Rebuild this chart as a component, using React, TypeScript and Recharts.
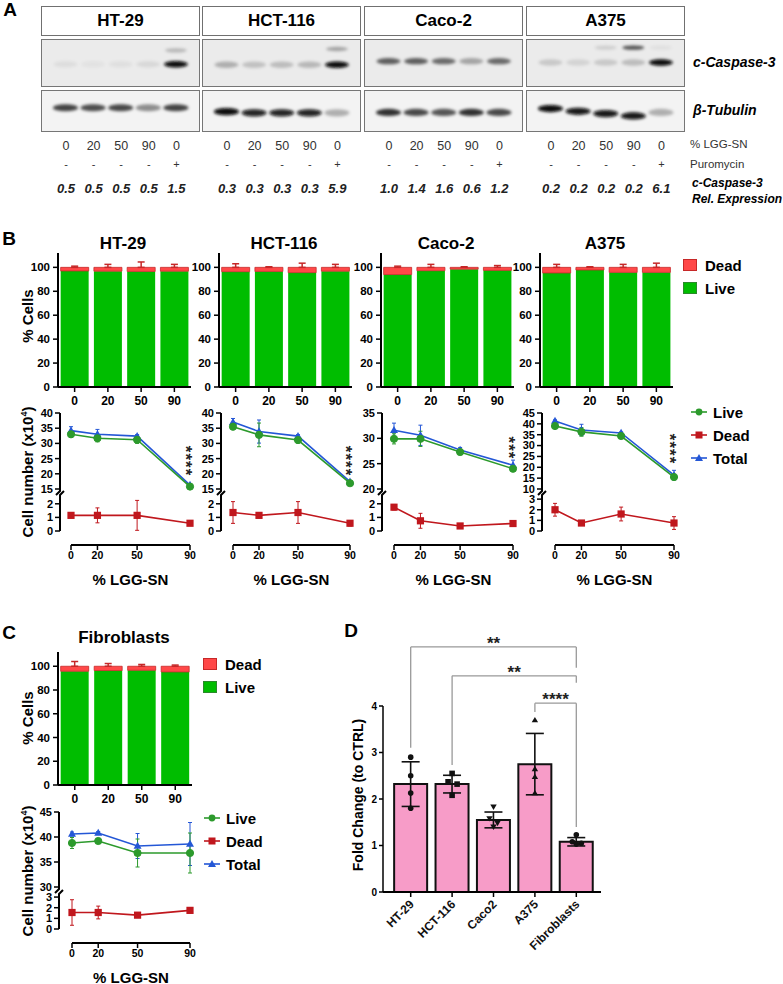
import React from 'react';
import {
  BarChart,
  Bar,
  LineChart,
  Line,
  ComposedChart,
  ScatterChart,
  Scatter,
  XAxis,
  YAxis,
  ErrorBar,
  ReferenceLine,
  ReferenceDot,
} from 'recharts';

const FONT = '"Liberation Sans", Arial, Helvetica, sans-serif';
const GREEN = '#00bd00';
const RED = '#ff4848';
const LIVE_C = '#2c9a2c';
const DEAD_C = '#c0171d';
const TOTAL_C = '#2457d6';
const PINK = '#f79cc8';

// ---------- A: western blots ----------
const lanes = [1, 2, 3, 4, 5];
const laneDose = ['0', '20', '50', '90', '0'];
const lanePuro = ['-', '-', '-', '-', '+'];
const blotNames = ['HT-29', 'HCT-116', 'Caco-2', 'A375'];

const relExpHT29 = [0.5, 0.5, 0.5, 0.5, 1.5];
const relExpHCT116 = [0.3, 0.3, 0.3, 0.3, 5.9];
const relExpCaco2 = [1.0, 1.4, 1.6, 0.6, 1.2];
const relExpA375 = [0.2, 0.2, 0.2, 0.2, 6.1];

// band darkness 0..1 per lane
const caspHT29 = [0.06, 0.04, 0.05, 0.08, 1.0];
const caspHCT116 = [0.26, 0.18, 0.2, 0.22, 1.0];
const caspCaco2 = [0.6, 0.6, 0.55, 0.3, 0.55];
const caspA375 = [0.15, 0.1, 0.15, 0.2, 1.0];
const caspHiHT29 = [0, 0, 0, 0, 0.22];
const caspHiHCT116 = [0, 0, 0, 0, 0.3];
const caspHiCaco2 = [0, 0, 0, 0, 0];
const caspHiA375 = [0, 0, 0.12, 0.65, 0.05];
const tubHT29 = [0.72, 0.68, 0.7, 0.42, 0.72];
const tubHCT116 = [1.0, 0.9, 0.9, 0.9, 0.28];
const tubCaco2 = [0.8, 0.7, 0.65, 0.8, 0.7];
const tubA375 = [1.0, 0.95, 0.95, 0.95, 0.28];
// vertical band position inside the strip (0 bottom, 1 top)
const caspYPos = [0.46, 0.45, 0.53, 0.5];
const caspHiYPos = [0.77, 0.8, 0.8, 0.83];
const tubYHT29 = [0.57, 0.57, 0.57, 0.57, 0.57];
const tubYHCT116 = [0.47, 0.44, 0.44, 0.44, 0.44];
const tubYCaco2 = [0.45, 0.45, 0.45, 0.45, 0.45];
const tubYA375 = [0.55, 0.48, 0.42, 0.36, 0.45];

// ---------- B/C: % cells ----------
const doses = [0, 20, 50, 90];
const doseLabels = ['0', '20', '50', '90'];

const pctLiveHT29 = [97, 96.8, 96.6, 96.8];
const pctDeadHT29 = [3, 3.2, 3.4, 3.2];
const pctErrHT29 = [1, 2.5, 4.5, 2.5];
const pctLiveHCT116 = [96.4, 96.6, 95.6, 96.8];
const pctDeadHCT116 = [3.6, 3.4, 4.4, 3.2];
const pctErrHCT116 = [3, 0.5, 3.5, 2.5];
const pctLiveCaco2 = [94, 97.2, 98.5, 97.5];
const pctDeadCaco2 = [6, 2.8, 1.5, 2.5];
const pctErrCaco2 = [1, 2.5, 0.5, 1.5];
const pctLiveA375 = [95.3, 97.8, 95.8, 95.8];
const pctDeadA375 = [4.7, 2.2, 4.2, 4.2];
const pctErrA375 = [2.5, 0.5, 2.5, 3.5];
const pctLiveFibro = [95.8, 96.4, 96.6, 95.2];
const pctDeadFibro = [4.2, 3.6, 3.4, 4.8];
const pctErrFibro = [4, 2.3, 1.5, 1];

// ---------- B/C: cell numbers (x10^4) ----------
const liveHT29 = [33, 31.7, 31.2, 15.8];
const liveErrHT29 = [1, 1.2, 1.2, 0.3];
const totalHT29 = [34.2, 33, 32.4, 16.3];
const totalErrHT29 = [1.3, 1.6, 0.5, 0.3];
const deadHT29 = [1.15, 1.15, 1.15, 0.57];
const deadErrHT29 = [0.1, 0.55, 1.1, 0.15];

const liveHCT116 = [35.5, 32.8, 31.1, 16.9];
const liveErrHCT116 = [1, 3.9, 1, 0.3];
const totalHCT116 = [37, 33.9, 32.4, 17.4];
const totalErrHCT116 = [1.2, 3.8, 0.5, 0.3];
const deadHCT116 = [1.36, 1.15, 1.36, 0.57];
const deadErrHCT116 = [0.8, 0.1, 0.8, 0.2];

const liveCaco2 = [29.9, 29.9, 27.3, 24.0];
const liveErrCaco2 = [1, 1.5, 0.5, 0.5];
const totalCaco2 = [31.6, 30.6, 27.7, 24.7];
const totalErrCaco2 = [1.4, 2, 0.5, 1];
const deadCaco2 = [1.75, 0.75, 0.37, 0.55];
const deadErrCaco2 = [0.2, 0.55, 0.1, 0.2];

const liveA375 = [39.0, 36.3, 34.4, 15.5];
const liveErrA375 = [1, 2, 0.5, 1];
const totalA375 = [41.3, 37.2, 35.8, 16.4];
const totalErrA375 = [0.5, 2.6, 0.5, 2.2];
const deadA375 = [2.0, 0.75, 1.6, 0.75];
const deadErrA375 = [0.6, 0.1, 0.65, 0.6];

const liveFibro = [38.8, 39.2, 36.8, 36.8];
const liveErrFibro = [1.1, 0.5, 2.8, 4];
const totalFibro = [40.6, 40.8, 38.2, 38.6];
const totalErrFibro = [0.4, 0.3, 2.5, 4.3];
const deadFibro = [1.55, 1.55, 1.3, 1.75];
const deadErrFibro = [1.2, 0.6, 0.2, 0.2];

// ---------- D: fold change ----------
const dCells = ['HT-29', 'HCT-116', 'Caco2', 'A375', 'Fibroblasts'];
const dMean = [2.32, 2.32, 1.55, 2.75, 1.08];
const dSD = [0.48, 0.19, 0.17, 0.66, 0.09];
const dRep1 = [2.9, 2.55, 1.83, 3.7, 1.23];
const dRep2 = [2.5, 2.37, 1.58, 2.65, 1.08];
const dRep3 = [2.13, 2.32, 1.48, 2.48, 1.05];
const dRep4 = [1.8, 2.08, 1.4, 2.13, 1.03];
const dJit1 = [0, 0, 0, 0, 0];
const dJit2 = [0, -4, -4, 0, -4];
const dJit3 = [0, 5, 4, 0, 5];
const dJit4 = [0, 0, 0, 0, 0];
const sigFrom = ['HT-29', 'HCT-116', 'A375'];
const sigTo = ['Fibroblasts', 'Fibroblasts', 'Fibroblasts'];
const sigTop = [5.27, 4.65, 4.06];
const sigFromEnd = [3.1, 2.73, 3.87];
const sigToEnd = [4.82, 4.5, 1.4];
const sigText = ['**', '**', '****'];

const tk = (size: number) => ({ fontSize: size, fontWeight: 700, fill: '#000', fontFamily: FONT });
const axisLn = { stroke: '#000', strokeWidth: 2 };
const tickLn = { stroke: '#000', strokeWidth: 1.5 };

type TP = {
  x: number;
  y: number;
  children: React.ReactNode;
  size?: number;
  weight?: number;
  italic?: boolean;
  color?: string;
  align?: 'center' | 'left' | 'right';
  rotate?: number;
};

const T = ({ x, y, children, size = 12, weight = 700, italic = false, color = '#000', align = 'center', rotate = 0 }: TP) => {
  const tx = align === 'center' ? '-50%' : align === 'left' ? '0%' : '-100%';
  return (
    <div
      style={{
        position: 'absolute',
        left: x,
        top: y,
        transform: `translate(${tx},-50%) rotate(${rotate}deg)`,
        fontSize: size,
        fontWeight: weight,
        fontStyle: italic ? 'italic' : 'normal',
        color,
        whiteSpace: 'nowrap',
        lineHeight: 1,
      }}
    >
      {children}
    </div>
  );
};

// ---------- blot strip ----------
const BW = 159;
const laneX = (lane: number) => ((lane - 0.15) / 5.65) * (BW - 3) + 1.5;

const bandShape = (p: any) => {
  if (p.cx == null || !p.payload || p.payload.v <= 0) return <g />;
  return (
    <ellipse
      cx={p.cx}
      cy={p.cy}
      rx={p.payload.rx}
      ry={p.payload.ry}
      fill="#080808"
      fillOpacity={p.payload.v}
      filter="url(#bandBlur)"
    />
  );
};

const BlotStrip = ({ bands, height, bg }: { bands: any[]; height: number; bg: string }) => (
  <div style={{ width: BW, height, border: '1.5px solid #767676', background: bg, boxSizing: 'border-box' }}>
    <ScatterChart width={BW - 3} height={height - 3} margin={{ top: 0, right: 0, bottom: 0, left: 0 }}>
      <XAxis type="number" dataKey="lane" domain={[0.15, 5.8]} hide />
      <YAxis type="number" dataKey="y" domain={[0, 1]} hide />
      <Scatter data={bands} shape={bandShape} isAnimationActive={false} />
    </ScatterChart>
  </div>
);

const blotLeft = [41, 202, 364, 526];
const blotCasp = [caspHT29, caspHCT116, caspCaco2, caspA375];
const blotCaspHi = [caspHiHT29, caspHiHCT116, caspHiCaco2, caspHiA375];
const blotTub = [tubHT29, tubHCT116, tubCaco2, tubA375];
const blotTubY = [tubYHT29, tubYHCT116, tubYCaco2, tubYA375];
const blotRel = [relExpHT29, relExpHCT116, relExpCaco2, relExpA375];

const Blot = ({ idx }: { idx: number }) => {
  const left = blotLeft[idx];
  const casp = lanes
    .map((l, i) => ({ lane: l, y: caspYPos[idx], v: blotCasp[idx][i], rx: 12, ry: 3.2 }))
    .concat(lanes.map((l, i) => ({ lane: l, y: caspHiYPos[idx], v: blotCaspHi[idx][i], rx: 11, ry: 2.2 })));
  const tub = lanes.map((l, i) => ({ lane: l, y: blotTubY[idx][i], v: blotTub[idx][i], rx: 12.5, ry: 3.6 }));
  return (
    <>
      <div
        style={{
          position: 'absolute',
          left,
          top: 6,
          width: BW,
          height: 30,
          border: '1.5px solid #707070',
          boxSizing: 'border-box',
          display: 'flex',
          alignItems: 'center',
          justifyContent: 'center',
          fontSize: 17,
          fontWeight: 700,
        }}
      >
        {blotNames[idx]}
      </div>
      <div style={{ position: 'absolute', left, top: 39 }}>
        <BlotStrip bands={casp} height={48} bg="#ebebeb" />
      </div>
      <div style={{ position: 'absolute', left, top: 90 }}>
        <BlotStrip bands={tub} height={42} bg="#f3f3f3" />
      </div>
      {lanes.map((l, i) => (
        <React.Fragment key={l}>
          <T x={left + laneX(l)} y={146} size={12.5} weight={400} color="#333">
            {laneDose[i]}
          </T>
          <T x={left + laneX(l)} y={164} size={11} weight={400} color="#333">
            {lanePuro[i]}
          </T>
          <T x={left + laneX(l)} y={188} size={13} italic color="#222">
            {blotRel[idx][i].toFixed(1)}
          </T>
        </React.Fragment>
      ))}
    </>
  );
};

// ---------- stacked % cells ----------
const StackPanel = ({
  left,
  top,
  plotW,
  plotH,
  live,
  dead,
  err,
}: {
  left: number;
  top: number;
  plotW: number;
  plotH: number;
  live: number[];
  dead: number[];
  err: number[];
}) => {
  const rows = doseLabels.map((d, i) => ({ dose: d, live: live[i], dead: dead[i], err: [0, err[i]] }));
  const YW = 40;
  return (
    <div style={{ position: 'absolute', left: left - YW, top: top - 2 }}>
      <BarChart
        width={YW + plotW + 2}
        height={2 + plotH + 26}
        data={rows}
        margin={{ top: 2, right: 2, bottom: 0, left: 0 }}
        barCategoryGap="8%"
      >
        <XAxis
          dataKey="dose"
          height={26}
          tickSize={5}
          tickMargin={4}
          interval={0}
          axisLine={axisLn}
          tickLine={tickLn}
          tick={tk(12)}
        />
        <XAxis xAxisId="top" orientation="top" dataKey="dose" height={0} tick={false} tickLine={false} axisLine={axisLn} />
        <YAxis
          type="number"
          domain={[0, 112]}
          ticks={[0, 20, 40, 60, 80, 100]}
          interval={0}
          width={YW}
          tickSize={5}
          tickMargin={3}
          axisLine={axisLn}
          tickLine={tickLn}
          tick={tk(11.5)}
        />
        <YAxis yAxisId="right" orientation="right" domain={[0, 1]} width={0} tick={false} tickLine={false} axisLine={axisLn} />
        <Bar dataKey="live" stackId="s" fill={GREEN} isAnimationActive={false} />
        <Bar dataKey="dead" stackId="s" fill={RED} stroke="#c62828" strokeWidth={0.8} isAnimationActive={false}>
          <ErrorBar dataKey="err" width={3.5} stroke="#c62828" strokeWidth={1.5} direction="y" />
        </Bar>
      </BarChart>
    </div>
  );
};

// ---------- line charts with broken axis ----------
const circleDot = (color: string) => (p: any) =>
  p.cx == null ? <g key={p.index} /> : <circle key={p.index} cx={p.cx} cy={p.cy} r={3.6} fill={color} stroke={color} />;
const squareDot = (color: string) => (p: any) =>
  p.cx == null ? <g key={p.index} /> : <rect key={p.index} x={p.cx - 3.6} y={p.cy - 3.6} width={7.2} height={7.2} fill={color} />;
const triDot = (color: string) => (p: any) =>
  p.cx == null ? (
    <g key={p.index} />
  ) : (
    <path key={p.index} d={`M${p.cx},${p.cy - 4.2} L${p.cx + 4},${p.cy + 2.8} L${p.cx - 4},${p.cy + 2.8} Z`} fill={color} />
  );

type Seg = { top: number; bottom: number; domain: [number, number]; ticks: number[] };

type LPProps = {
  axisX: number;
  x0: number;
  x90: number;
  up: Seg;
  lo: Seg;
  axisY: number;
  live: number[];
  liveErr: number[];
  total: number[];
  totalErr: number[];
  dead: number[];
  deadErr: number[];
  stars?: string;
  starY?: number;
};

const LinePanel = (pr: LPProps) => {
  const { axisX, x0, x90, up, lo, axisY } = pr;
  const rows = doses.map((d, i) => ({
    dose: d,
    live: pr.live[i],
    liveErr: pr.liveErr[i],
    total: pr.total[i],
    totalErr: pr.totalErr[i],
    dead: pr.dead[i],
    deadErr: pr.deadErr[i],
  }));
  const k = (x90 - x0) / 90;
  const xmin = -(x0 - axisX) / k;
  const rightPad = 12;
  const xmax = 90 + rightPad / k;
  const plotW = x90 + rightPad - axisX;
  const YW = 40;
  const MT = 6;
  const yAxisProps = {
    type: 'number' as const,
    interval: 0 as const,
    width: YW,
    tickSize: 5,
    tickMargin: 2,
    axisLine: axisLn,
    tickLine: tickLn,
    tick: tk(11),
    allowDataOverflow: false,
  };
  return (
    <>
      <div style={{ position: 'absolute', left: axisX - YW, top: up.top - MT }}>
        <LineChart width={YW + plotW} height={MT + up.bottom - up.top} data={rows} margin={{ top: MT, right: 0, bottom: 0, left: 0 }}>
          <XAxis type="number" dataKey="dose" domain={[xmin, xmax]} hide />
          <YAxis {...yAxisProps} domain={up.domain} ticks={up.ticks} />
          <Line dataKey="total" stroke={TOTAL_C} strokeWidth={1.6} dot={triDot(TOTAL_C)} isAnimationActive={false}>
            <ErrorBar dataKey="totalErr" width={2} stroke={TOTAL_C} strokeWidth={1} direction="y" />
          </Line>
          <Line dataKey="live" stroke={LIVE_C} strokeWidth={1.6} dot={circleDot(LIVE_C)} isAnimationActive={false}>
            <ErrorBar dataKey="liveErr" width={2} stroke={LIVE_C} strokeWidth={1} direction="y" />
          </Line>
          {pr.stars ? (
            <ReferenceDot
              x={90}
              y={pr.starY}
              r={0}
              ifOverflow="visible"
              shape={(p: any) => (
                <text
                  x={p.cx - 5}
                  y={p.cy}
                  transform={`rotate(90 ${p.cx - 5} ${p.cy})`}
                  textAnchor="middle"
                  dominantBaseline="central"
                  fontSize={17}
                  fontWeight={700}
                  fontFamily={FONT}
                  fill="#222"
                  letterSpacing={1}
                >
                  {pr.stars}
                </text>
              )}
            />
          ) : null}
        </LineChart>
      </div>
      <div style={{ position: 'absolute', left: axisX - YW, top: lo.top - MT }}>
        <LineChart width={YW + plotW} height={MT + lo.bottom - lo.top} data={rows} margin={{ top: MT, right: 0, bottom: 0, left: 0 }}>
          <XAxis type="number" dataKey="dose" domain={[xmin, xmax]} hide />
          <YAxis {...yAxisProps} domain={lo.domain} ticks={lo.ticks} />
          <Line dataKey="dead" stroke={DEAD_C} strokeWidth={1.6} dot={squareDot(DEAD_C)} isAnimationActive={false}>
            <ErrorBar dataKey="deadErr" width={2} stroke={DEAD_C} strokeWidth={1} direction="y" />
          </Line>
        </LineChart>
      </div>
      <svg
        style={{ position: 'absolute', left: axisX - 8, top: up.bottom - 4, overflow: 'visible' }}
        width={16}
        height={lo.top - up.bottom + 8}
      >
        <path d={`M8,4 L8,6 L4,10`} stroke="#000" strokeWidth={2} fill="none" />
        <path d={`M12,${lo.top - up.bottom - 2} L8,${lo.top - up.bottom + 2} L8,${lo.top - up.bottom + 4}`} stroke="#000" strokeWidth={2} fill="none" />
      </svg>
      <div style={{ position: 'absolute', left: x0 - 10, top: axisY - 1 }}>
        <LineChart width={x90 - x0 + 20} height={22} data={rows} margin={{ top: 0, right: 10, bottom: 0, left: 10 }}>
          <XAxis
            type="number"
            dataKey="dose"
            domain={[0, 90]}
            ticks={doses}
            interval={0}
            height={21}
            tickSize={5}
            tickMargin={2}
            axisLine={axisLn}
            tickLine={tickLn}
            tick={tk(10.5)}
          />
          <YAxis hide domain={[0, 1]} />
          <Line dataKey="dead" stroke="none" dot={false} isAnimationActive={false} />
        </LineChart>
      </div>
      <T x={(x0 + x90) / 2} y={axisY + 34} size={15}>
        % LGG-SN
      </T>
    </>
  );
};

const BarLegend = ({ x, y }: { x: number; y: number }) => (
  <>
    <div style={{ position: 'absolute', left: x, top: y - 6, width: 14, height: 12, background: RED, border: '1px solid #c62828', boxSizing: 'border-box' }} />
    <T x={x + 22} y={y} size={15} align="left">
      Dead
    </T>
    <div style={{ position: 'absolute', left: x, top: y + 17, width: 14, height: 12, background: GREEN, border: '1px solid #2a8a2a', boxSizing: 'border-box' }} />
    <T x={x + 22} y={y + 23} size={15} align="left">
      Live
    </T>
  </>
);

const LineLegend = ({ x, y }: { x: number; y: number }) => {
  const items = [
    { name: 'Live', c: LIVE_C, m: 'c' },
    { name: 'Dead', c: DEAD_C, m: 's' },
    { name: 'Total', c: TOTAL_C, m: 't' },
  ];
  return (
    <>
      {items.map((it, i) => (
        <React.Fragment key={it.name}>
          <svg style={{ position: 'absolute', left: x, top: y + i * 23 - 6 }} width={18} height={12}>
            <line x1={1} y1={6} x2={17} y2={6} stroke={it.c} strokeWidth={1.6} />
            {it.m === 'c' && <circle cx={9} cy={6} r={3.4} fill={it.c} />}
            {it.m === 's' && <rect x={5.5} y={2.5} width={7} height={7} fill={it.c} />}
            {it.m === 't' && <path d="M9,2 L13,9 L5,9 Z" fill={it.c} />}
          </svg>
          <T x={x + 23} y={y + i * 23} size={15} align="left">
            {it.name}
          </T>
        </React.Fragment>
      ))}
    </>
  );
};

const CellNumberLabel = ({ x, y }: { x: number; y: number }) => (
  <T x={x} y={y} size={15} rotate={-90}>
    Cell number (x10<span style={{ fontSize: 9, position: 'relative', top: -6 }}>4</span>)
  </T>
);

// ---------- D ----------
const markerFor = (name: string, cx: number, cy: number) => {
  const f = '#111';
  if (name === 'HCT-116') return <rect x={cx - 2.8} y={cy - 2.8} width={5.6} height={5.6} fill={f} />;
  if (name === 'Caco2') return <path d={`M${cx - 3.2},${cy - 2.4} L${cx + 3.2},${cy - 2.4} L${cx},${cy + 3} Z`} fill={f} />;
  if (name === 'A375') return <path d={`M${cx},${cy - 3} L${cx + 3.2},${cy + 2.4} L${cx - 3.2},${cy + 2.4} Z`} fill={f} />;
  return <circle cx={cx} cy={cy} r={2.8} fill={f} />;
};

const DTick = (p: any) => (
  <text
    x={0}
    y={0}
    transform={`translate(${p.x + 4},${p.y + 6}) rotate(-45)`}
    textAnchor="end"
    fontSize={12}
    fontWeight={700}
    fontFamily={FONT}
    fill="#111"
  >
    {p.payload.value}
  </text>
);

const PanelD = () => {
  const rows = dCells.map((name, i) => ({
    name,
    mean: dMean[i],
    sd: dSD[i],
    r1: dRep1[i],
    r2: dRep2[i],
    r3: dRep3[i],
    r4: dRep4[i],
  }));
  const jit = [dJit1, dJit2, dJit3, dJit4];
  const YW = 35;
  const MT = 80;
  return (
    <div style={{ position: 'absolute', left: 383 - YW, top: 706 - MT }}>
      <ComposedChart
        width={YW + 218 + 5}
        height={MT + 186 + 75}
        data={rows}
        margin={{ top: MT, right: 5, bottom: 0, left: 0 }}
        barCategoryGap="10%"
      >
        <XAxis
          dataKey="name"
          padding={{ left: 7, right: 4 }}
          height={75}
          interval={0}
          tickSize={5}
          tickMargin={2}
          allowDuplicatedCategory={false}
          axisLine={axisLn}
          tickLine={tickLn}
          tick={DTick}
        />
        <YAxis
          type="number"
          domain={[0, 4]}
          ticks={[0, 1, 2, 3, 4]}
          interval={0}
          width={YW}
          tickSize={4}
          tickMargin={2}
          axisLine={{ stroke: '#000', strokeWidth: 1.5 }}
          tickLine={tickLn}
          tick={tk(10)}
        />
        <Bar dataKey="mean" fill={PINK} stroke="#111" strokeWidth={2} isAnimationActive={false}>
          <ErrorBar dataKey="sd" width={9} stroke="#111" strokeWidth={1.6} direction="y" />
        </Bar>
        {[1, 2, 3, 4].map((r) => (
          <Scatter
            key={r}
            dataKey={`r${r}`}
            isAnimationActive={false}
            shape={(p: any) => {
              if (p.cx == null) return <g />;
              const i = dCells.indexOf(p.payload.name);
              return markerFor(p.payload.name, p.cx + jit[r - 1][i], p.cy);
            }}
          />
        ))}
        {sigFrom.map((from, i) => (
          <React.Fragment key={from}>
            <ReferenceLine
              segment={[
                { x: from, y: sigFromEnd[i] },
                { x: from, y: sigTop[i] },
              ]}
              stroke="#999"
              strokeWidth={1.3}
              ifOverflow="visible"
            />
            <ReferenceLine
              segment={[
                { x: from, y: sigTop[i] },
                { x: sigTo[i], y: sigTop[i] },
              ]}
              stroke="#999"
              strokeWidth={1.3}
              ifOverflow="visible"
              label={{ value: sigText[i], position: 'top', offset: -2, fill: '#222', fontSize: 17, fontWeight: 700, fontFamily: FONT }}
            />
            <ReferenceLine
              segment={[
                { x: sigTo[i], y: sigTop[i] },
                { x: sigTo[i], y: sigToEnd[i] },
              ]}
              stroke="#999"
              strokeWidth={1.3}
              ifOverflow="visible"
            />
          </React.Fragment>
        ))}
      </ComposedChart>
    </div>
  );
};

// ---------- layout ----------
const bLeft = [58, 219, 381, 540];
const bTitles = ['HT-29', 'HCT-116', 'Caco-2', 'A375'];
const bLive = [pctLiveHT29, pctLiveHCT116, pctLiveCaco2, pctLiveA375];
const bDead = [pctDeadHT29, pctDeadHCT116, pctDeadCaco2, pctDeadA375];
const bErr = [pctErrHT29, pctErrHCT116, pctErrCaco2, pctErrA375];

const lAxisX = [60, 221, 382, 542];
const lX0 = [71, 233, 394, 555];
const lX90 = [190, 350, 513, 674];
const upDomains: [number, number][] = [
  [15, 40],
  [15, 40],
  [20, 35],
  [10, 45],
];
const upTicks = [
  [15, 20, 25, 30, 35, 40],
  [15, 20, 25, 30, 35, 40],
  [20, 25, 30, 35],
  [10, 15, 20, 25, 30, 35, 40, 45],
];
const loDomains: [number, number][] = [
  [0, 2.5],
  [0, 2.5],
  [0, 2.5],
  [0, 3.2],
];
const loTicks = [
  [0, 1, 2],
  [0, 1, 2],
  [0, 1, 2],
  [0, 1, 2, 3],
];
const lLive = [liveHT29, liveHCT116, liveCaco2, liveA375];
const lLiveErr = [liveErrHT29, liveErrHCT116, liveErrCaco2, liveErrA375];
const lTotal = [totalHT29, totalHCT116, totalCaco2, totalA375];
const lTotalErr = [totalErrHT29, totalErrHCT116, totalErrCaco2, totalErrA375];
const lDead = [deadHT29, deadHCT116, deadCaco2, deadA375];
const lDeadErr = [deadErrHT29, deadErrHCT116, deadErrCaco2, deadErrA375];
const lStars = ['****', '****', '***', '****'];
const lStarY = [24.2, 24.2, 28.1, 28.4];

export default function App() {
  return (
    <div
      style={{
        position: 'absolute',
        left: 0,
        top: 0,
        width: 783,
        height: 984,
        background: '#fff',
        fontFamily: FONT,
        overflow: 'hidden',
        color: '#000',
      }}
    >
      <style>{'.recharts-surface{overflow:visible}'}</style>
      <svg width={0} height={0} style={{ position: 'absolute' }}>
        <defs>
          <filter id="bandBlur" x="-50%" y="-150%" width="200%" height="400%">
            <feGaussianBlur stdDeviation="1.4" />
          </filter>
        </defs>
      </svg>

      {/* A */}
      <T x={10} y={9} size={19}>
        A
      </T>
      {[0, 1, 2, 3].map((i) => (
        <Blot key={i} idx={i} />
      ))}
      <T x={693} y={62} size={14} italic align="left">
        c-Caspase-3
      </T>
      <T x={693} y={110} size={14} italic align="left">
        β-Tubulin
      </T>
      <T x={690} y={145} size={11.5} weight={400} color="#333" align="left">
        % LGG-SN
      </T>
      <T x={690} y={165} size={11.5} weight={400} color="#333" align="left">
        Puromycin
      </T>
      <T x={692} y={183} size={12} italic align="left">
        c-Caspase-3
      </T>
      <T x={692} y={199} size={12} italic align="left">
        Rel. Expression
      </T>

      {/* B */}
      <T x={9} y={238} size={19}>
        B
      </T>
      {bTitles.map((t, i) => (
        <T key={t} x={bLeft[i] + 65} y={243} size={17}>
          {t}
        </T>
      ))}
      {bLeft.map((l, i) => (
        <StackPanel key={l} left={l} top={253} plotW={133} plotH={134} live={bLive[i]} dead={bDead[i]} err={bErr[i]} />
      ))}
      <BarLegend x={683} y={265} />
      <T x={27} y={316} size={15} rotate={-90}>
        % Cells
      </T>
      {lAxisX.map((a, i) => (
        <LinePanel
          key={a}
          axisX={a}
          x0={lX0[i]}
          x90={lX90[i]}
          up={{ top: 413, bottom: 489, domain: upDomains[i], ticks: upTicks[i] }}
          lo={{ top: 497, bottom: 531, domain: loDomains[i], ticks: loTicks[i] }}
          axisY={545}
          live={lLive[i]}
          liveErr={lLiveErr[i]}
          total={lTotal[i]}
          totalErr={lTotalErr[i]}
          dead={lDead[i]}
          deadErr={lDeadErr[i]}
          stars={lStars[i]}
          starY={lStarY[i]}
        />
      ))}
      <CellNumberLabel x={27} y={472} />
      <LineLegend x={690} y={412} />

      {/* C */}
      <T x={9} y={632} size={19}>
        C
      </T>
      <T x={124} y={637} size={17}>
        Fibroblasts
      </T>
      <StackPanel left={58} top={652} plotW={134} plotH={133} live={pctLiveFibro} dead={pctDeadFibro} err={pctErrFibro} />
      <BarLegend x={203} y={664} />
      <T x={27} y={718} size={15} rotate={-90}>
        % Cells
      </T>
      <LinePanel
        axisX={59}
        x0={72}
        x90={190}
        up={{ top: 812, bottom: 887, domain: [30, 45], ticks: [30, 35, 40, 45] }}
        lo={{ top: 896, bottom: 929, domain: [0, 3.1], ticks: [0, 1, 2, 3] }}
        axisY={943}
        live={liveFibro}
        liveErr={liveErrFibro}
        total={totalFibro}
        totalErr={totalErrFibro}
        dead={deadFibro}
        deadErr={deadErrFibro}
      />
      <CellNumberLabel x={27} y={871} />
      <LineLegend x={203} y={818} />

      {/* D */}
      <T x={351} y={630} size={19}>
        D
      </T>
      <T x={358} y={795} size={14} rotate={-90}>
        Fold Change (to CTRL)
      </T>
      <PanelD />
    </div>
  );
}
